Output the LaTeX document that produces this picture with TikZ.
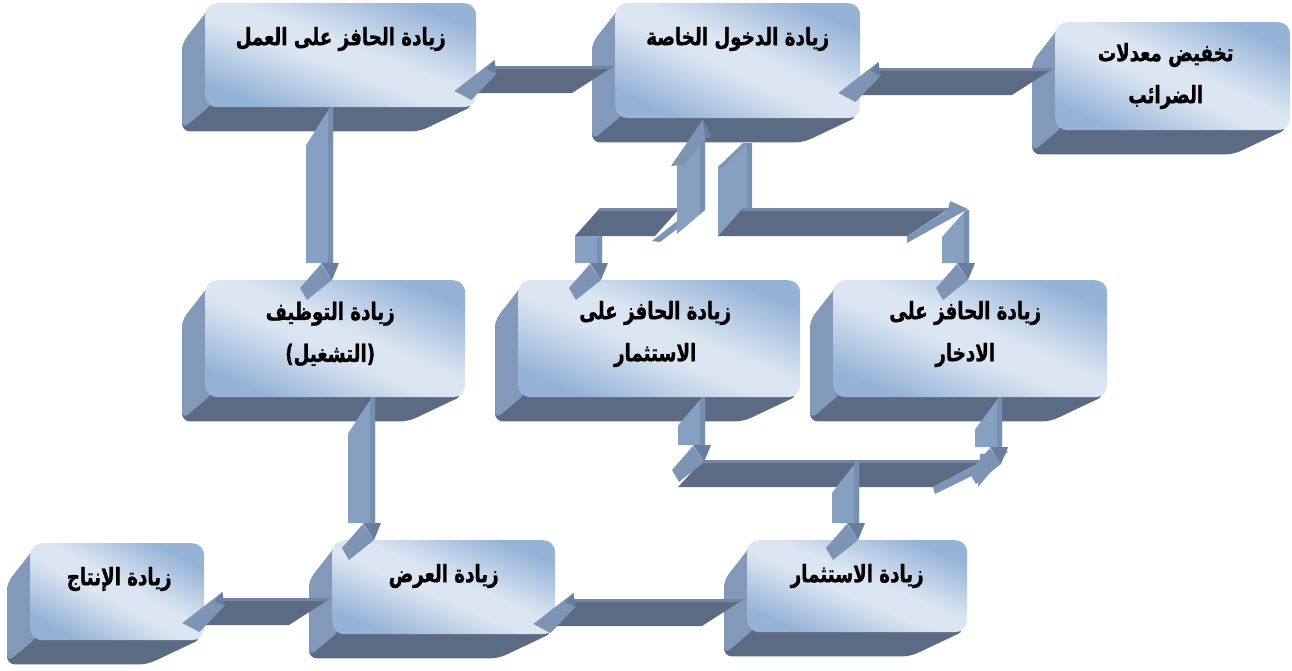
\documentclass[tikz,border=0pt]{standalone}
\usepackage{fontspec}
\newfontfamily\arabicfont[Script=Arabic, FakeStretch=0.76, BoldFeatures={FakeBold=1.2}]{DejaVu Sans}
\TeXXeTstate=1
\usepackage{xcolor}
\definecolor{xfrontlight}{HTML}{DCE6F2}
\definecolor{xfrontblue}{HTML}{95B3D7}
\definecolor{xside}{HTML}{8299B9}
\definecolor{xbottom}{HTML}{5B6B83}
\definecolor{xrim}{HTML}{7285A3}
\definecolor{xshaft}{HTML}{86A0C2}
\definecolor{xshaftedge}{HTML}{7690B2}
\definecolor{xhead}{HTML}{7D94B4}
\definecolor{xheaddark}{HTML}{687E9E}
\usepackage{tikz}
\usetikzlibrary{calc, backgrounds}
\pgfdeclarehorizontalshading{slabshade}{100bp}{color(0bp)=(xfrontblue); color(25bp)=(xfrontblue); color(46bp)=(xfrontlight); color(54bp)=(xfrontlight); color(75bp)=(xfrontblue); color(100bp)=(xfrontblue)}
\tikzset{
  %% Styles %%
  slab/.style = {rounded corners=12pt, shading=slabshade, shading angle=#1,
    inner sep=0pt, anchor=north west},
  slab/.default = 67,
  slabtext/.style = {font=\arabicfont\bfseries\fontsize{24}{42}\selectfont, align=center},
  sideface/.style = {fill=xside},
  bottomface/.style = {fill=xbottom},
  bandface/.style = {fill=xbottom},
  bandrim/.style = {fill=xrim},
  shaftface/.style = {fill=xshaft},
  shaftedge/.style = {fill=xshaftedge},
  headface/.style = {fill=xhead},
  headdark/.style = {fill=xheaddark},
}
% side and bottom faces of a box, behind its front
\newcommand{\slabsides}[1]{%
  \begin{pgfonlayer}{background}
    \fill[bottomface, rounded corners=8pt] ($(#1.north west)+(8,6)$) -- ($(#1.north west)+(-23,40)$)
      -- ($(#1.south west)+(-23,24)$) -- ($(#1.south east)+(-57,24)$) -- ($(#1.south east)+(-2,-2)$) -- cycle;
    \fill[sideface, rounded corners=8pt] ($(#1.north west)+(6,3)$) -- ($(#1.north west)+(-23,40)$)
      -- ($(#1.south west)+(-23,22)$) -- ($(#1.south west)+(8,-4)$) -- cycle;
  \end{pgfonlayer}}
% flat band pointing left: head end, tail end of its top edge
\newcommand{\bandleft}[2]{%
  \fill[bandface] (#1) -- (#2) -- ($(#2)+(-42,27)$) -- ($(#1)+(-22,27)$) -- cycle;
  \fill[bandrim] (#1) -- (#2) -- ($(#2)+(-4,3)$) -- ($(#1)+(-2,3)$) -- cycle;
  \fill[headface] ($(#1)+(0,-6)$) -- ($(#1)+(-40,25)$) -- ($(#1)+(-23,34)$) -- ($(#1)+(2,8)$) -- cycle;
  \fill[headdark] ($(#1)+(0,-6)$) -- ($(#1)+(2,8)$) -- ($(#1)+(-8,3)$) -- cycle;
}
% shaft pointing down: top left, bottom left, drop of the cut at the top
\newcommand{\shaftdown}[3]{%
  \fill[shaftface] ($(#1)+(0,#3)$) -- ($(#1)+(24,0)$) -- ($(#1)+(27,0)$) -- ($(#2)+(27,0)$) -- (#2) -- cycle;
  \fill[shaftedge] ($(#1)+(22,2)$) -- ($(#1)+(27,0)$) -- ($(#2)+(27,0)$) -- ($(#2)+(22,0)$) -- cycle;
  \fill[headdark] ($(#2)+(15,0)$) -- ($(#2)+(33,0)$) -- ($(#2)+(26,17)$) -- cycle;
  \fill[headface] ($(#2)+(15,1)$) -- ($(#2)+(-6,25)$) -- ($(#2)+(1,37)$) -- ($(#2)+(26,17)$) -- cycle;
}

\begin{document}
\begin{tikzpicture}[x=1pt, y=-1pt]
  \useasboundingbox (0,0) rectangle (1292,670);

  % boxes
  \node[slab=69, minimum width=271pt, minimum height=104pt] (b1) at (205,3) {};
  \node[slab=65, minimum width=245pt, minimum height=115pt] (b2) at (615,3) {};
  \node[slab=65, minimum width=235pt, minimum height=108pt] (b3) at (1055,22) {};
  \node[slab=66, minimum width=260pt, minimum height=117pt] (b4) at (205,280) {};
  \node[slab, minimum width=282pt, minimum height=117pt] (b5) at (518,280) {};
  \node[slab, minimum width=274pt, minimum height=117pt] (b6) at (833,280) {};
  \node[slab=61, minimum width=174pt, minimum height=97pt] (b7) at (30,543) {};
  \node[slab, minimum width=223pt, minimum height=94pt] (b8) at (332,540) {};
  \node[slab, minimum width=220pt, minimum height=92pt] (b9) at (747,540) {};
  \foreach \b in {b1,b2,b3,b4,b5,b6,b7,b8,b9}
    \slabsides{\b};

  \node[slabtext] (t1) at ($(b1.north)+(0,36)$) {\beginR زيادة الحافز على العمل\endR};
  \node[slabtext] (t2) at ($(b2.north)+(0,36)$) {\beginR زيادة الدخول الخاصة\endR};
  \node[slabtext] (t3) at ($(b3.north)+(-7,54)$) {\beginR تخفيض معدلات\endR\\\beginR الضرائب\endR};
  \node[slabtext] (t4) at ($(b4.north)+(-5,54)$) {\beginR زيادة التوظيف\endR\\\beginR (التشغيل)\endR};
  \node[slabtext] (t5) at ($(b5.north)+(-4,54)$) {\beginR زيادة الحافز على\endR\\\beginR الاستثمار\endR};
  \node[slabtext] (t6) at ($(b6.north)+(-5,54)$) {\beginR زيادة الحافز على\endR\\\beginR الادخار\endR};
  \node[slabtext] (t7) at ($(b7.north)+(2,36)$) {\beginR زيادة الإنتاج\endR};
  \node[slabtext] (t8) at ($(b8.north)+(0,36)$) {\beginR زيادة العرض\endR};
  \node[slabtext] (t9) at ($(b9.north)+(0,36)$) {\beginR زيادة الاستثمار\endR};

  % left bands
  \coordinate (a1h) at ($(b1.north east)+(18,63)$);
  \coordinate (a1t) at ($(b2.north west |- a1h)+(-1,0)$);
  \bandleft{a1h}{a1t}
  \coordinate (a2h) at ($(b2.north east)+(18,65)$);
  \coordinate (a2t) at ($(b3.north west |- a2h)+(-1,0)$);
  \bandleft{a2h}{a2t}
  \coordinate (a8h) at ($(b8.north east)+(18,59)$);
  \coordinate (a8t) at ($(b9.north west |- a8h)+(-3,0)$);
  \bandleft{a8h}{a8t}
  \coordinate (a9h) at ($(b7.north east)+(18,55)$);
  \coordinate (a9t) at ($(b8.north west |- a9h)+(-1,0)$);
  \bandleft{a9h}{a9t}

  % shafts from box to box
  \coordinate (a4t) at ($(b1.south west)+(101,0)$);
  \coordinate (a4b) at ($(a4t |- b4.north)+(0,-17)$);
  \shaftdown{a4t}{a4b}{38}
  \coordinate (a5t) at ($(b4.south west)+(143,0)$);
  \coordinate (a5b) at ($(a5t |- b8.north)+(0,-17)$);
  \shaftdown{a5t}{a5b}{36}

  % between b2 and b5
  \fill[bandface] (600,208) -- (680,208) -- (655,236) -- (575,236) -- cycle;
  \fill[bandrim] (600,208) -- (680,208) -- (678,211) -- (597,211) -- cycle;
  \fill[headface] (652,241) -- (681,218) -- (681,226) -- (660,242) -- cycle;
  \coordinate (a3b) at ($(b5.north west)+(57,-17)$);
  \shaftdown{575,236}{a3b}{0}
  \fill[shaftface] (677,234) -- (677,165) -- (705,135) -- (705,210) -- cycle;
  \fill[shaftedge] (700,140) -- (705,135) -- (705,210) -- (700,214) -- cycle;
  \fill[headface] (671,166) -- ($(b2.south west)+(88,1)$) -- (706,138) -- (684,165) -- cycle;
  \fill[headdark] ($(b2.south west)+(88,1)$) -- (711,136) -- (705,139) -- cycle;

  % between b2 and b6
  \fill[shaftface] (718,167) -- (745,143) -- (752,143) -- (752,208) -- (743,208) -- (718,236) -- cycle;
  \fill[shaftedge] (747,143) -- (752,143) -- (752,208) -- (747,208) -- cycle;
  \fill[headface] (718,167) -- (743,143) -- (747,143) -- (722,168) -- cycle;
  \fill[bandface] (743,208) -- (950,208) -- (907,236) -- (718,236) -- cycle;
  \fill[bandrim] (743,208) -- (950,208) -- (946,211) -- (740,211) -- cycle;
  \fill[headface] (950,201) -- (968,209) -- (907,243) -- (907,236) -- (948,210) -- cycle;
  \coordinate (a6b) at ($(b6.north west)+(109,-17)$);
  \shaftdown{942,210}{a6b}{27}

  % b5 and b6 into b9
  \fill[bandface] (703,460) -- (985,460) -- (933,487) -- (678,487) -- cycle;
  \fill[bandrim] (703,460) -- (985,460) -- (981,463) -- (700,463) -- cycle;
  \fill[headface] (980,454) -- (1008,451) -- (978,487) -- cycle;
  \fill[headface] (933,487) -- (982,462) -- (988,468) -- (935,494) -- cycle;
  \coordinate (a7t) at ($(b5.south west)+(160,0)$);
  \shaftdown{a7t}{678,445}{28}
  \coordinate (a10t) at ($(b6.south west)+(142,0)$);
  \shaftdown{a10t}{975,447}{32}
  \coordinate (a11b) at ($(b9.north west)+(85,-17)$);
  \shaftdown{832,462}{a11b}{31}
\end{tikzpicture}
\end{document}
